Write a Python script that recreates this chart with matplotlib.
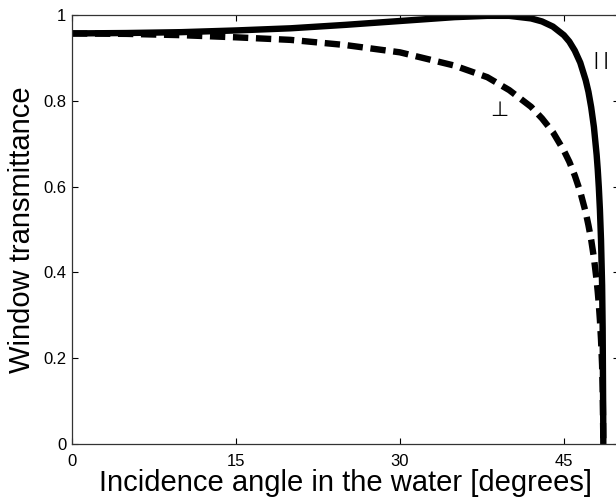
import matplotlib
matplotlib.use("Agg")
import matplotlib.pyplot as plt

plt.rcParams["font.family"] = ["Liberation Sans", "DejaVu Sans"]

# Incidence angle in the water [degrees]
angle = [0, 5, 10, 15, 20, 25, 30, 35, 38, 40, 42, 43, 44, 45, 45.5, 46,
         46.5, 47, 47.25, 47.5, 47.75, 48, 48.1, 48.2, 48.3, 48.4, 48.5,
         48.55, 48.6, 48.61]
# Parallel polarisation (solid)
t_par = [0.957, 0.958, 0.960, 0.964, 0.969, 0.977, 0.986, 0.995, 0.998,
         0.998, 0.992, 0.985, 0.973, 0.953, 0.938, 0.917, 0.889, 0.848,
         0.821, 0.785, 0.739, 0.674, 0.640, 0.598, 0.546, 0.476, 0.370,
         0.270, 0.069, 0.0]
# Perpendicular polarisation (dashed)
t_perp = [0.957, 0.956, 0.953, 0.948, 0.942, 0.930, 0.913, 0.882, 0.855,
          0.825, 0.786, 0.759, 0.727, 0.684, 0.658, 0.626, 0.588, 0.540,
          0.510, 0.476, 0.434, 0.381, 0.355, 0.325, 0.289, 0.244, 0.183,
          0.128, 0.031, 0.0]

x_ticks = [0, 15, 30, 45]
y_ticks = [0, 0.2, 0.4, 0.6, 0.8, 1]
y_tick_labels = ["0", "0.2", "0.4", "0.6", "0.8", "1"]

fig = plt.figure(figsize=(6.16, 5.0), dpi=100)
ax = fig.add_axes([72 / 616, 1 - 444 / 500, 546.5 / 616, 429 / 500])

ax.plot(angle, t_perp, color="black", lw=4.6, linestyle=(0, (2.4, 1.2)),
        dash_capstyle="butt", solid_joinstyle="round")
ax.plot(angle, t_par, color="black", lw=4.6, solid_capstyle="butt",
        solid_joinstyle="round")

ax.text(48.4, 0.895, "| |", fontsize=13, ha="center", va="center")
ax.text(39.05, 0.779, "\u22a5", fontsize=15, ha="center", va="center",
        family=["DejaVu Sans"])

ax.set_xlim(0, 50)
ax.set_ylim(0, 1)
ax.set_xticks(x_ticks)
ax.set_xticklabels([str(t) for t in x_ticks])
ax.set_yticks(y_ticks)
ax.set_yticklabels(y_tick_labels)
ax.tick_params(direction="in", length=4, width=0.8, labelsize=12,
               top=True, right=True)
ax.tick_params(axis="x", pad=7)
ax.tick_params(axis="y", pad=4)
for s in ax.spines.values():
    s.set_linewidth(0.9)
    s.set_color("#333333")

ax.set_xlabel("Incidence angle in the water [degrees]", fontsize=21, labelpad=0)
ax.set_ylabel("Window transmittance", fontsize=21, labelpad=5)

fig.savefig("out.png", dpi=100)
